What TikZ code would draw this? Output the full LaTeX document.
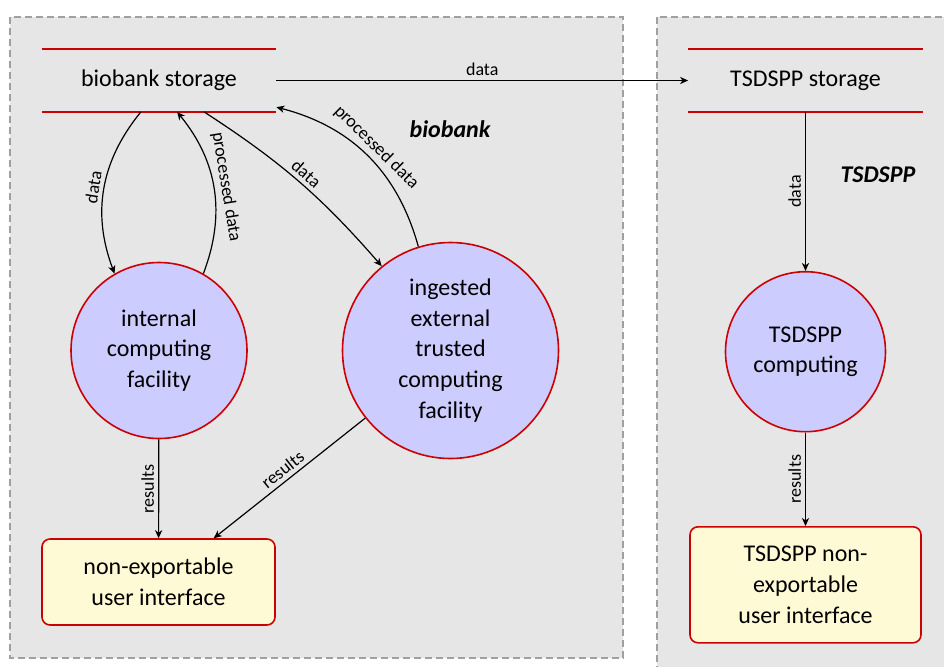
\documentclass[tikz,border=0pt]{standalone}
\usepackage{fontspec}
\setmainfont{Carlito}
\usetikzlibrary{positioning,arrows.meta}

\definecolor{zonegray}{RGB}{230,230,230}
\definecolor{dashgray}{RGB}{160,160,160}
\definecolor{procred}{RGB}{204,0,0}
\definecolor{proclav}{RGB}{204,204,255}
\definecolor{uiyellow}{RGB}{255,250,214}

\tikzset{
  zone/.style={fill=zonegray, draw=dashgray, line width=0.75pt, dash pattern=on 3.5pt off 2pt},
  store/.style={minimum width=117pt, minimum height=31pt, inner sep=0pt},
  storeline/.style={draw=procred, line width=1.2pt},
  proc/.style={circle, draw=procred, fill=proclav, line width=0.8pt, align=center, inner sep=0pt},
  ui/.style={rectangle, rounded corners=4pt, draw=procred, fill=uiyellow, line width=0.8pt, align=center, inner sep=0pt},
  flow/.style={-{Stealth[length=4pt,width=3.6pt,inset=1.2pt]}, line width=0.6pt},
  lbl/.style={font=\fontsize{9}{10}\selectfont, inner sep=2pt},
  zonename/.style={font=\fontsize{12}{14}\selectfont\bfseries\itshape},
}

\begin{document}
\begin{tikzpicture}[x=0.5pt, y=-0.5pt, font=\fontsize{12}{15.4}\selectfont]
  \useasboundingbox (0,0) rectangle (944,666);
  \clip (0,0) rectangle (944,666);

  % trusted zones
  \draw[zone] (10,17) rectangle (623,658);
  \draw[zone] (657,17) rectangle (980,700);
  \node[zonename] (bbzone) at (450,129) {biobank};
  \node[zonename] (tszone) at (878,175) {TSDSPP};

  % biobank side
  \node[store] (bbs) at (159,80.5) {biobank storage};
  \node[proc, minimum size=88pt] (icf) at (159,350.5) {internal\\computing\\facility};
  \node[proc, minimum size=108pt] (ing) at (450.5,350.5) {ingested\\external\\trusted\\computing\\facility};
  \node[ui, minimum width=116.5pt, minimum height=43pt] (ui) at (158.5,582) {non-exportable\\user interface};

  % TSDSPP side
  \node[store] (tss) at (805.5,80.5) {TSDSPP storage};
  \node[proc, minimum size=80pt, below=79.5pt of tss] (tsc) {TSDSPP\\computing};
  \node[ui, minimum width=115.5pt, minimum height=58pt, below=46.75pt of tsc] (tsui) {TSDSPP non-\\exportable\\user interface};

  \draw[storeline] (bbs.north west) -- (bbs.north east);
  \draw[storeline] (bbs.south west) -- (bbs.south east);
  \draw[storeline] (tss.north west) -- (tss.north east);
  \draw[storeline] (tss.south west) -- (tss.south east);

  % flows
  \draw[flow] (bbs) to[bend right=30] node[lbl, above, sloped] {data} (icf);
  \draw[flow] (icf) to[bend right=30] node[lbl, above, sloped] {processed data} (bbs);
  \draw[flow] (bbs) to[bend left=8] node[lbl, above, sloped] {data} (ing);
  \draw[flow] (ing) to[bend right=30] node[lbl, above, sloped] {processed data} (bbs);
  \draw[flow] (icf) -- node[lbl, above, rotate=90] {results} (ui);
  \draw[flow] (ing) -- node[lbl, above, sloped] {results} (ui);
  \draw[flow] (bbs) -- node[lbl, above] {data} (tss);
  \draw[flow] (tss) -- node[lbl, above, rotate=90] {data} (tsc);
  \draw[flow] (tsc) -- node[lbl, above, rotate=90] {results} (tsui);
\end{tikzpicture}
\end{document}
